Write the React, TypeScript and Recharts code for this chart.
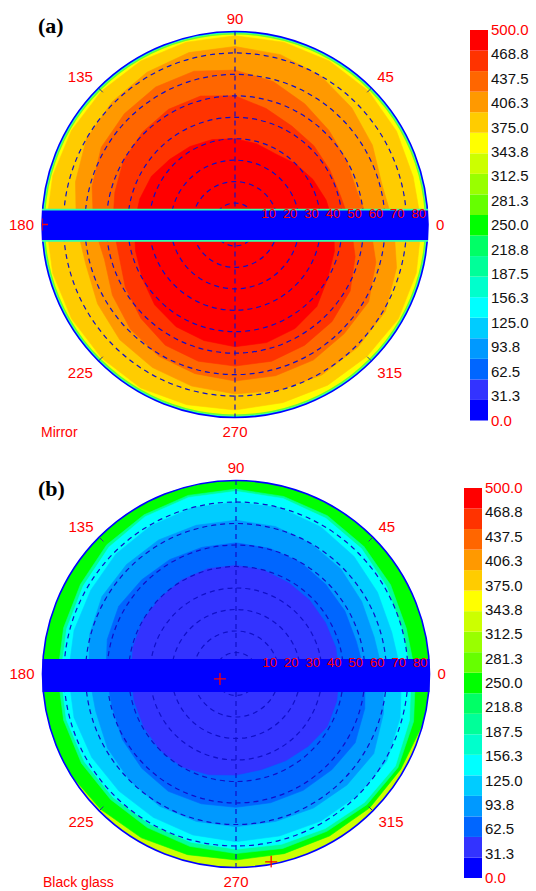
import React from "react";
import {
  Bar,
  BarChart,
  Pie,
  PieChart,
  PolarAngleAxis,
  PolarGrid,
  PolarRadiusAxis,
  Radar,
  RadarChart,
  ReferenceArea,
  Scatter,
  ScatterChart,
  XAxis,
  YAxis,
} from "recharts";

const FONT = "'Liberation Sans', Arial, Helvetica, sans-serif";
const W = 460;

// azimuth directions (deg) at which the contour edges are read
const AZIMUTHS = [0, 15, 30, 45, 60, 75, 90, 105, 120, 135, 150, 165, 180, 195, 210, 225, 240, 255, 270, 285, 300, 315, 330, 345];
const ANGLE_TICKS = [0, 45, 90, 135, 180, 225, 270, 315];
const GRID_ZENITHS = [10, 20, 30, 40, 50, 60, 70, 80];
const RADIUS_LABELS = [10, 20, 30, 40, 50, 60, 70, 80];

// (a) Mirror : outer edge (zenith deg) of each colour region, per azimuth
const MIRROR_GOLD = [86, 87, 88, 88, 88, 88, 88, 88, 88, 88, 88, 88, 88, 88, 88, 88, 87, 86.5, 86, 86.5, 87, 88, 87.5, 87];
const MIRROR_AMBER = [71, 74, 77, 80, 82, 83, 83, 82, 81, 80, 77, 74, 72, 74, 76, 77, 78, 79, 80, 81, 81, 81, 78, 74];
const MIRROR_ORANGE = [59, 60, 62, 65, 69, 72, 74, 74, 73, 72, 69, 66, 63, 66, 69, 71, 72, 73, 73, 73, 72, 72, 68, 63];
const MIRROR_VERMILION = [51, 51, 52, 53, 56, 60, 62, 62, 61, 60, 58, 57, 56, 59, 62, 65, 66, 66, 66, 65, 64, 62, 58, 54];
const MIRROR_RED = [44, 42, 40, 38, 39, 40, 41, 42, 43, 45, 46, 47, 48, 50, 53, 55, 56, 57, 57, 56, 54, 50, 48, 46];
const MIRROR_BAND = [-7.2, 6.5];
const MIRROR_MARKERS = [{ az: 180, zen: 90 }];

// (b) Black glass
const BLACK_GREEN = [92, 92, 92, 92, 92, 92, 92, 92, 92, 92, 92, 92, 92, 90.5, 89, 88, 87, 86.5, 86.5, 87, 88, 88.5, 90, 92];
const BLACK_MINT = [82, 83, 84, 85, 85.5, 86, 86, 85.5, 85, 83.5, 83, 83, 83, 83, 82.5, 82.5, 83, 83.5, 84, 84.5, 86, 87, 85.5, 83.5];
const BLACK_CYAN = [80, 81, 82.5, 83.6, 84.5, 85, 85, 84.5, 83.5, 82, 81.5, 81.5, 81.7, 81.5, 81, 80.5, 81, 81.5, 82, 83, 84.5, 85.6, 83.5, 81.5];
const BLACK_SKY = [75, 76, 77.5, 79, 80, 80, 80, 79.5, 79, 78, 78, 78, 78, 77.5, 77, 77, 77.5, 78, 78, 79, 80, 81, 79, 77];
const BLACK_AZURE = [66.5, 67.5, 69, 70, 71, 71.5, 71.6, 72, 72, 72, 70.5, 68.5, 67.5, 69, 70, 71, 71, 71, 71, 72, 73, 74, 71, 68.5];
const BLACK_ROYAL = [58, 58.5, 59, 60, 60.5, 61, 61, 61.5, 62, 63, 62, 60.5, 59.6, 61, 62, 63, 62.5, 62, 62, 62.5, 63, 64, 62, 60];
const BLACK_VIOLET = [48, 48, 48.5, 49, 50, 50.5, 50.7, 50.5, 50, 50, 49.5, 49, 49, 49.5, 50, 50, 48.5, 47, 46, 46.5, 47.5, 49, 48.5, 48];
const BLACK_BAND = [-8.4, 7.0];
const BLACK_MARKERS = [
  { az: 197, zen: 7.8 },
  { az: 280.6, zen: 88.9 },
];

// colour scale, bottom to top
const COLORBAR_COLOURS = [
  "#0000ff", "#3333ff", "#0066ff", "#0099ff", "#00ccff", "#00ffff", "#00ffcc", "#00ff99", "#00ff66", "#00ff00",
  "#66ff00", "#99ff00", "#ccff00", "#ffff00", "#ffcc00", "#ff9900", "#ff6600", "#ff3300", "#ff0000",
];
const COLORBAR_TICKS = [0, 31.3, 62.5, 93.8, 125, 156.3, 187.5, 218.8, 250, 281.3, 312.5, 343.8, 375, 406.3, 437.5, 468.8, 500];

type Region = { key: string; colour: string; values: number[] };
type Rim = { from: number; to: number; colour: string };

type PanelSpec = {
  top: number;
  height: number;
  cx: number;
  cy: number;
  r: number;
  base: string;
  regions: Region[];
  rims: Rim[];
  band: number[];
  bandEdge?: string;
  markers: { az: number; zen: number }[];
};

const PANEL_A: PanelSpec = {
  top: 0,
  height: 450,
  cx: 235,
  cy: 224.5,
  r: 193,
  base: "#ffff00",
  regions: [
    { key: "gold", colour: "#ffcc00", values: MIRROR_GOLD },
    { key: "amber", colour: "#ff9900", values: MIRROR_AMBER },
    { key: "orange", colour: "#ff6600", values: MIRROR_ORANGE },
    { key: "vermilion", colour: "#ff3300", values: MIRROR_VERMILION },
    { key: "red", colour: "#ff0000", values: MIRROR_RED },
  ],
  rims: [
    { from: 88.6, to: 89.3, colour: "#66ff33" },
    { from: 89.3, to: 90, colour: "#00ffcc" },
  ],
  band: MIRROR_BAND,
  bandEdge: "#33ffaa",
  markers: MIRROR_MARKERS,
};

const PANEL_B: PanelSpec = {
  top: 450,
  height: 441,
  cx: 236,
  cy: 224,
  r: 193.5,
  base: "#ccff00",
  regions: [
    { key: "green", colour: "#00ff00", values: BLACK_GREEN },
    { key: "mint", colour: "#00ff99", values: BLACK_MINT },
    { key: "cyan", colour: "#00ffff", values: BLACK_CYAN },
    { key: "sky", colour: "#00ccff", values: BLACK_SKY },
    { key: "azure", colour: "#0099ff", values: BLACK_AZURE },
    { key: "royal", colour: "#0066ff", values: BLACK_ROYAL },
    { key: "violet", colour: "#3333ff", values: BLACK_VIOLET },
  ],
  rims: [],
  band: BLACK_BAND,
  markers: BLACK_MARKERS,
};

const NO_MARGIN = { top: 0, right: 0, bottom: 0, left: 0 };
const layer: React.CSSProperties = { position: "absolute", left: 0, top: 0 };

function makeAngleTick(spec: PanelSpec) {
  return (props: any) => {
    const az = Number(props.payload.value);
    const rad = (az * Math.PI) / 180;
    const cos = Math.cos(rad);
    const sin = Math.sin(rad);
    const lr = spec.r + 8;
    const x = spec.cx + lr * cos;
    const y = spec.cy - lr * sin;
    const anchor = cos > 0.1 ? "start" : cos < -0.1 ? "end" : "middle";
    const dy = sin > 0.1 ? 0 : sin < -0.1 ? 11 : 5;
    const diag = az % 90 !== 0;
    return (
      <g>
        {diag && (
          <line
            x1={spec.cx + (spec.r - 6) * cos}
            y1={spec.cy - (spec.r - 6) * sin}
            x2={spec.cx + spec.r * cos}
            y2={spec.cy - spec.r * sin}
            stroke="#303090"
            strokeWidth={1}
          />
        )}
        <text x={x} y={y + dy} textAnchor={anchor} fontSize={15} fontFamily={FONT} fill="#ff0000">
          {az}
        </text>
      </g>
    );
  };
}

function radiusLabel(props: any) {
  const { cx, cy, payload } = props;
  return (
    <text x={cx + 5} y={cy - 7} fontSize={13} fontFamily={FONT} fill="#ff0000">
      {payload.label}
    </text>
  );
}

function plusMarker(props: any) {
  const { cx, cy } = props;
  return (
    <g stroke="#ff0000" strokeWidth={1.3}>
      <line x1={cx - 6} y1={cy} x2={cx + 6} y2={cy} />
      <line x1={cx} y1={cy - 6} x2={cx} y2={cy + 6} />
    </g>
  );
}

function PolarPanel({ spec }: { spec: PanelSpec }) {
  const { cx, cy, r, height } = spec;
  const px = (zen: number) => (zen * r) / 90;
  const rows = AZIMUTHS.map((az, i) => {
    const row: Record<string, number> = { az };
    spec.regions.forEach((g) => {
      row[g.key] = g.values[i];
    });
    return row;
  });
  const tickRows = ANGLE_TICKS.map((az) => ({ az, zero: 0 }));
  const labelRows = RADIUS_LABELS.map((v) => ({ x: v, y: 0, label: v }));
  const markerRows = spec.markers.map((m) => ({
    x: m.zen * Math.cos((m.az * Math.PI) / 180),
    y: m.zen * Math.sin((m.az * Math.PI) / 180),
  }));
  const margin = { top: cy - r, left: cx - r, right: W - cx - r, bottom: height - cy - r };
  const [bandLow, bandHigh] = spec.band;

  return (
    <div style={{ position: "absolute", left: 0, top: spec.top, width: W, height }}>
      {/* base disk */}
      <div style={layer}>
        <PieChart width={W} height={height} margin={NO_MARGIN}>
          <Pie
            data={[{ v: 1 }]}
            dataKey="v"
            cx={cx}
            cy={cy}
            innerRadius={0}
            outerRadius={r}
            startAngle={0}
            endAngle={360}
            fill={spec.base}
            stroke="none"
            isAnimationActive={false}
          />
        </PieChart>
      </div>

      {/* contour regions */}
      <div style={layer}>
        <RadarChart
          width={W}
          height={height}
          data={rows}
          cx={cx}
          cy={cy}
          outerRadius={r}
          startAngle={0}
          endAngle={360}
          margin={NO_MARGIN}
        >
          <PolarAngleAxis dataKey="az" tick={false} tickLine={false} axisLine={false} />
          <PolarRadiusAxis type="number" domain={[0, 90]} allowDataOverflow tick={false} axisLine={false} />
          {spec.regions.map((g) => (
            <Radar
              key={g.key}
              dataKey={g.key}
              fill={g.colour}
              fillOpacity={1}
              stroke={g.colour}
              strokeWidth={0.6}
              dot={false}
              isAnimationActive={false}
            />
          ))}
        </RadarChart>
      </div>

      {/* white mask outside the circle + thin rim */}
      <div style={layer}>
        <PieChart width={W} height={height} margin={NO_MARGIN}>
          <Pie
            data={[{ v: 1 }]}
            dataKey="v"
            cx={cx}
            cy={cy}
            innerRadius={r}
            outerRadius={r + 14}
            startAngle={0}
            endAngle={360}
            fill="#ffffff"
            stroke="none"
            isAnimationActive={false}
          />
          {spec.rims.map((rim, i) => (
            <Pie
              key={i}
              data={[{ v: 1 }]}
              dataKey="v"
              cx={cx}
              cy={cy}
              innerRadius={px(rim.from)}
              outerRadius={px(rim.to)}
              startAngle={0}
              endAngle={360}
              fill={rim.colour}
              stroke="none"
              isAnimationActive={false}
            />
          ))}
        </PieChart>
      </div>

      {/* grid, border, azimuth labels */}
      <div style={layer}>
        <RadarChart
          width={W}
          height={height}
          data={tickRows}
          cx={cx}
          cy={cy}
          outerRadius={r}
          startAngle={0}
          endAngle={360}
          margin={NO_MARGIN}
        >
          <PolarGrid
            gridType="circle"
            polarRadius={GRID_ZENITHS.map(px)}
            polarAngles={[0, 90, 180, 270]}
            stroke="#1010c8"
            strokeWidth={1.2}
            strokeDasharray="5 4"
          />
          <PolarGrid
            gridType="circle"
            polarRadius={[r]}
            polarAngles={[0]}
            radialLines={false}
            stroke="#0000ff"
            strokeWidth={1.6}
          />
          <PolarRadiusAxis type="number" domain={[0, 90]} tick={false} axisLine={false} />
          <PolarAngleAxis dataKey="az" axisLine={false} tickLine={false} tick={makeAngleTick(spec)} />
          <Radar dataKey="zero" fillOpacity={0} strokeOpacity={0} dot={false} isAnimationActive={false} />
        </RadarChart>
      </div>

      {/* shadow band, zenith labels, markers */}
      <div style={layer}>
        <ScatterChart width={W} height={height} margin={margin}>
          <XAxis type="number" dataKey="x" domain={[-90, 90]} allowDataOverflow hide />
          <YAxis type="number" dataKey="y" domain={[-90, 90]} allowDataOverflow hide />
          {spec.bandEdge && (
            <ReferenceArea
              x1={-90}
              x2={90}
              y1={bandLow - 0.8}
              y2={bandHigh + 0.8}
              fill={spec.bandEdge}
              fillOpacity={1}
              stroke="none"
            />
          )}
          <ReferenceArea x1={-90} x2={90} y1={bandLow} y2={bandHigh} fill="#0000ff" fillOpacity={1} stroke="none" />
          <Scatter data={labelRows} shape={radiusLabel} isAnimationActive={false} />
          <Scatter data={markerRows} shape={plusMarker} isAnimationActive={false} />
        </ScatterChart>
      </div>
    </div>
  );
}

function scaleTick(props: any) {
  const { x, y, payload } = props;
  const v = Number(payload.value);
  const edge = v === 0 || v === 500;
  return (
    <text x={x} y={y} dy={5} textAnchor="start" fontSize={15} fontFamily={FONT} fill={edge ? "#ff0000" : "#111111"}>
      {v.toFixed(1)}
    </text>
  );
}

function ColourBar({ left, top, height }: { left: number; top: number; height: number }) {
  const row: Record<string, number | string> = { name: "scale" };
  COLORBAR_COLOURS.forEach((_, i) => {
    row[`s${i}`] = 500 / COLORBAR_COLOURS.length;
  });
  return (
    <div style={{ position: "absolute", left, top: top - 10 }}>
      <BarChart
        width={70}
        height={height + 20}
        data={[row]}
        margin={{ top: 10, bottom: 10, left: 0, right: 0 }}
        barCategoryGap={0}
        barGap={0}
      >
        <XAxis dataKey="name" hide />
        <YAxis
          orientation="right"
          type="number"
          domain={[0, 500]}
          ticks={COLORBAR_TICKS}
          interval={0}
          width={52}
          tickSize={0}
          tickMargin={3}
          axisLine={false}
          tickLine={false}
          tick={scaleTick}
        />
        {COLORBAR_COLOURS.map((c, i) => (
          <Bar key={c} dataKey={`s${i}`} stackId="s" fill={c} isAnimationActive={false} />
        ))}
      </BarChart>
    </div>
  );
}

const titleStyle: React.CSSProperties = {
  position: "absolute",
  fontFamily: "'Liberation Serif', 'Times New Roman', serif",
  fontWeight: "bold",
  fontSize: 22,
  lineHeight: "22px",
  color: "#000",
};

const captionStyle: React.CSSProperties = {
  position: "absolute",
  fontFamily: FONT,
  fontSize: 14,
  lineHeight: "14px",
  color: "#ff0000",
};

export default function App() {
  return (
    <div style={{ position: "absolute", left: 0, top: 0, width: 536, height: 891, background: "#fff", overflow: "hidden" }}>
      <PolarPanel spec={PANEL_A} />
      <PolarPanel spec={PANEL_B} />
      <ColourBar left={470} top={29.5} height={390.5} />
      <ColourBar left={464} top={488} height={390} />
      <div style={{ ...titleStyle, left: 38, top: 15 }}>(a)</div>
      <div style={{ ...titleStyle, left: 38, top: 478 }}>(b)</div>
      <div style={{ ...captionStyle, left: 41, top: 425 }}>Mirror</div>
      <div style={{ ...captionStyle, left: 43, top: 875 }}>Black glass</div>
    </div>
  );
}
